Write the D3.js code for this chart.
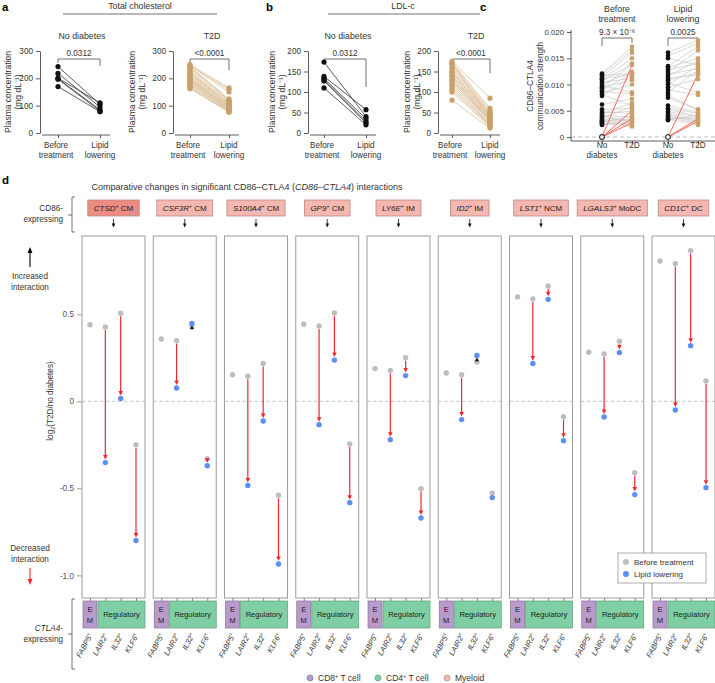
<!DOCTYPE html>
<html>
<head>
<meta charset="utf-8">
<script src="https://cdn.jsdelivr.net/npm/d3@7.9.0/dist/d3.min.js"></script>
<style>
  body { margin: 0; background: #fff; }
  svg { font-family: "Liberation Sans", Arial, sans-serif; }
</style>
</head>
<body>
<svg id="fig" width="715" height="683"></svg>
<script>
// ---------- data: panels a & b (paired plasma concentrations, mg/dL)
const tcTicks = [0, 100, 200, 300];
const ldlTicks = [0, 50, 100, 150, 200];
const tcNdBefore = [243, 218, 201, 199, 197, 170];
const tcNdAfter  = [105, 95, 110, 85, 80, 78];
const tcT2dBefore = [250, 247, 243, 240, 235, 228, 222, 218, 214, 210, 205, 200, 198, 195, 192, 190, 186, 182, 178, 175, 170, 165, 162, 245];
const tcT2dAfter  = [165, 150, 125, 120, 118, 112, 110, 108, 105, 103, 100, 98, 96, 95, 92, 90, 88, 86, 84, 82, 80, 78, 76, 160];
const ldlNdBefore = [173, 138, 133, 130, 127, 110];
const ldlNdAfter  = [40, 57, 35, 28, 25, 20];
const ldlT2dBefore = [175, 172, 170, 165, 160, 155, 150, 148, 145, 140, 135, 130, 128, 125, 120, 115, 110, 105, 100, 80, 168, 138];
const ldlT2dAfter  = [85, 60, 55, 50, 48, 45, 42, 40, 38, 36, 34, 32, 30, 28, 25, 22, 20, 18, 15, 12, 40, 30];

// ---------- data: panel c (CD86-CTLA4 communication strength, paired ND -> T2D)
const cTicks = [0, 0.005, 0.010, 0.015, 0.020];
const cBtNd  = [0.0121, 0.0119, 0.0117, 0.0115, 0.0112, 0.0110, 0.0107, 0.0104, 0.0101, 0.0098, 0.0095, 0.0093, 0.0090, 0.0087, 0.0084, 0.0081, 0.0078, 0.0062, 0.0053, 0.0048, 0.0046, 0.0044, 0.0042, 0.0040, 0.0038, 0.0036, 0.0034, 0.0032, 0.0030, 0.0028, 0.0026, 0.0024, 0.0023, 0, 0, 0, 0];
const cBtT2d = [0.0172, 0.0165, 0.0121, 0.0160, 0.0118, 0.0150, 0.0139, 0.0112, 0.0124, 0.0085, 0.0108, 0.0140, 0.0120, 0.0082, 0.0100, 0.0060, 0.0116, 0.0073, 0.0054, 0.0045, 0.0049, 0.0065, 0.0037, 0.0030, 0.0028, 0.0058, 0.0025, 0.0033, 0.0022, 0.0040, 0.0020, 0.0027, 0.0035, 0.0137, 0.0050, 0.0035, 0.0027];
const cLlNd  = [0.0161, 0.0155, 0.0150, 0.0135, 0.0132, 0.0128, 0.0124, 0.0120, 0.0116, 0.0112, 0.0108, 0.0104, 0.0100, 0.0095, 0.0090, 0.0085, 0.0080, 0.0075, 0.0060, 0.0055, 0.0052, 0.0048, 0.0045, 0.0042, 0.0040, 0.0038, 0.0035, 0.0034, 0.0032, 0, 0, 0];
const cLlT2d = [0.0184, 0.0178, 0.0137, 0.0172, 0.0150, 0.0140, 0.0165, 0.0130, 0.0145, 0.0118, 0.0123, 0.0084, 0.0135, 0.0110, 0.0080, 0.0127, 0.0050, 0.0053, 0.0047, 0.0045, 0.0040, 0.0038, 0.0033, 0.0030, 0.0028, 0.0025, 0.0036, 0.0023, 0.0042, 0.0120, 0.0035, 0.0030];

// ---------- data: panel d (log2(T2D/no diabetes))
const dCells = ['CTSD', 'CSF3R', 'S100A4', 'GP9', 'LY6E', 'ID2', 'LST1', 'LGALS3', 'CD1C'];
const dCellTypes = ['CM', 'CM', 'CM', 'CM', 'IM', 'IM', 'NCM', 'MoDC', 'DC'];
const tCells = ['FABP5', 'LAIR2', 'IL32', 'KLF6'];
const dTicks = [0.5, 0, -0.5, -1.0];
const dBefore = [
  [0.440, 0.427, 0.506, -0.249],
  [0.358, 0.349, 0.430, -0.330],
  [0.153, 0.144, 0.218, -0.540],
  [0.443, 0.433, 0.508, -0.245],
  [0.188, 0.178, 0.251, -0.502],
  [0.163, 0.153, 0.226, -0.527],
  [0.600, 0.588, 0.663, -0.088],
  [0.282, 0.272, 0.345, -0.410],
  [0.806, 0.791, 0.866, 0.117]
];
const dAfter = [
  [null, -0.352, 0.017, -0.800],
  [null, 0.077, 0.447, -0.370],
  [null, -0.483, -0.113, -0.935],
  [null, -0.134, 0.237, -0.582],
  [null, -0.220, 0.148, -0.670],
  [null, -0.105, 0.263, -0.553],
  [null, 0.217, 0.586, -0.226],
  [null, -0.090, 0.280, -0.536],
  [null, -0.050, 0.320, -0.496]
];

const TAN = '#c9a06a', TAN_LINE = '#dcc09a', INK = '#333';
const GRAY_PT = '#bdbdbd', BLUE_PT = '#5b8ff5', RED = '#f0262d';
const FS = 8.2;
const svg = d3.select('#fig');

function styleAxis(g, size = FS) {
  g.selectAll('.domain').attr('stroke', INK).attr('stroke-width', 0.8);
  g.selectAll('.tick line').attr('stroke', INK).attr('stroke-width', 0.8);
  g.selectAll('.tick text').attr('fill', INK).attr('font-size', size).attr('font-family', null);
}

function twoLines(g, x, y, l1, l2, size = FS) {
  const t = g.append('text').attr('text-anchor', 'middle').attr('font-size', size).attr('fill', INK);
  t.append('tspan').attr('x', x).attr('y', y).text(l1);
  if (l2) t.append('tspan').attr('x', x).attr('y', y + 10).text(l2);
}

function rotTitle(x, y, txt, size = FS) {
  return svg.append('text').attr('transform', `translate(${x},${y}) rotate(-90)`)
    .attr('text-anchor', 'middle').attr('font-size', size).attr('fill', INK).text(txt);
}

function bracket(g, x1, x2, y, d1, d2, label) {
  g.append('path').attr('d', `M${x1},${y + d1}V${y}H${x2}V${y + d2}`)
    .attr('fill', 'none').attr('stroke', INK).attr('stroke-width', 0.7);
  g.append('text').attr('x', (x1 + x2) / 2).attr('y', y - 3).attr('text-anchor', 'middle')
    .attr('font-size', FS).attr('fill', INK).text(label);
}

function pairedPanel({ axisX, xb, xa, ticks, before, after, dot, line, title, titleX, p, rDrop, labelX }) {
  const y = d3.scaleLinear().domain([0, d3.max(ticks)]).range([133, 51]);
  const x = d3.scalePoint().domain(['before', 'after']).range([xb, xa]);
  const g = svg.append('g');
  styleAxis(g.append('g').attr('transform', `translate(${axisX},0)`)
    .call(d3.axisLeft(y).tickValues(ticks).tickSize(4).tickSizeOuter(0).tickPadding(3)));
  const xg = g.append('g').attr('transform', 'translate(0,135)')
    .call(d3.axisBottom(x).tickSize(3).tickFormat(''));
  xg.select('.domain').attr('d', `M${axisX + 2},0H${xa + 10}`);
  styleAxis(xg);
  twoLines(g, xb - 2, 148, 'Before', 'treatment');
  twoLines(g, xa, 148, 'Lipid', 'lowering');
  g.append('text').attr('x', titleX).attr('y', 39).attr('text-anchor', 'middle')
    .attr('font-size', 8.8).attr('fill', INK).text(title);
  bracket(g, xb, xa, 59, 4, rDrop, p);
  const pairs = d3.zip(before, after);
  g.selectAll('line.pair').data(pairs).join('line')
    .attr('x1', x('before')).attr('x2', x('after'))
    .attr('y1', d => y(d[0])).attr('y2', d => y(d[1]))
    .attr('stroke', line).attr('stroke-width', 0.8);
  g.selectAll('circle.b').data(before).join('circle')
    .attr('cx', x('before')).attr('cy', d => y(d)).attr('r', 2.6).attr('fill', dot);
  g.selectAll('circle.a').data(after).join('circle')
    .attr('cx', x('after')).attr('cy', d => y(d)).attr('r', 2.6).attr('fill', dot);
  rotTitle(labelX, 92, 'Plasma concentration', 8.5);
  rotTitle(labelX + 10, 92, '(mg dL⁻¹)', 8.5);
}

// ---------- panel letters and group titles
svg.append('text').attr('x', 2).attr('y', 11).attr('font-size', 11.5).attr('font-weight', 'bold').text('a');
svg.append('text').attr('x', 266).attr('y', 11).attr('font-size', 11.5).attr('font-weight', 'bold').text('b');
svg.append('text').attr('x', 480).attr('y', 11).attr('font-size', 11.5).attr('font-weight', 'bold').text('c');
svg.append('text').attr('x', 2).attr('y', 184).attr('font-size', 11.5).attr('font-weight', 'bold').text('d');

svg.append('text').attr('x', 140).attr('y', 9).attr('text-anchor', 'middle').attr('font-size', 8.8).attr('fill', INK).text('Total cholesterol');
svg.append('line').attr('x1', 63).attr('x2', 217).attr('y1', 14).attr('y2', 14).attr('stroke', INK).attr('stroke-width', 0.7);
svg.append('text').attr('x', 403).attr('y', 9).attr('text-anchor', 'middle').attr('font-size', 8.8).attr('fill', INK).text('LDL-c');
svg.append('line').attr('x1', 328).attr('x2', 480).attr('y1', 14).attr('y2', 14).attr('stroke', INK).attr('stroke-width', 0.7);

pairedPanel({ axisX: 40, xb: 58, xa: 100, ticks: tcTicks, before: tcNdBefore, after: tcNdAfter,
  dot: '#111', line: '#333', title: 'No diabetes', titleX: 82, p: '0.0312', rDrop: 7, labelX: 11 });
pairedPanel({ axisX: 173, xb: 190, xa: 229, ticks: tcTicks, before: tcT2dBefore, after: tcT2dAfter,
  dot: TAN, line: TAN_LINE, title: 'T2D', titleX: 212, p: '<0.0001', rDrop: 11, labelX: 135 });
pairedPanel({ axisX: 308, xb: 324, xa: 366, ticks: ldlTicks, before: ldlNdBefore, after: ldlNdAfter,
  dot: '#111', line: '#333', title: 'No diabetes', titleX: 348, p: '0.0312', rDrop: 28, labelX: 275 });
pairedPanel({ axisX: 438, xb: 452, xa: 490, ticks: ldlTicks, before: ldlT2dBefore, after: ldlT2dAfter,
  dot: TAN, line: TAN_LINE, title: 'T2D', titleX: 476, p: '<0.0001', rDrop: 14, labelX: 410 });

// ---------- panel c
{
  const g = svg.append('g');
  const axisX = 571;
  const y = d3.scaleLinear().domain([0, 0.02]).range([137, 32]);
  const x = d3.scaleOrdinal().domain(['btNd', 'btT2d', 'llNd', 'llT2d']).range([602, 632, 668, 698]);
  g.append('line').attr('x1', axisX).attr('x2', 715).attr('y1', y(0)).attr('y2', y(0))
    .attr('stroke', '#aaa').attr('stroke-width', 0.8).attr('stroke-dasharray', '4,3');
  const ya = g.append('g').attr('transform', `translate(${axisX},0)`)
    .call(d3.axisLeft(y).tickValues(cTicks).tickSize(4).tickSizeOuter(0).tickPadding(3)
      .tickFormat(d => d === 0 ? '0' : d3.format('.3f')(d)));
  ya.select('.domain').attr('d', 'M0,30V141');
  styleAxis(ya, 7.8);
  const xg = g.append('g').attr('transform', 'translate(0,141)')
    .call(d3.axisBottom(x).tickSize(3).tickFormat(''));
  xg.select('.domain').attr('d', `M${axisX},0H715`);
  styleAxis(xg);
  twoLines(g, x('btNd'), 148, 'No', 'diabetes');
  twoLines(g, x('llNd'), 148, 'No', 'diabetes');
  twoLines(g, x('btT2d'), 148, 'T2D');
  twoLines(g, x('llT2d'), 148, 'T2D');
  twoLines(g, 617, 12, 'Before', 'treatment', 8.8);
  twoLines(g, 683, 12, 'Lipid', 'lowering', 8.8);
  bracket(g, x('btNd'), x('btT2d'), 38, 8, 5, '');
  g.append('text').attr('x', 617).attr('y', 35).attr('text-anchor', 'middle').attr('font-size', FS).attr('fill', INK)
    .text('9.3 × 10⁻⁶');
  bracket(g, x('llNd'), x('llT2d'), 38, 8, 4, '0.0025');
  rotTitle(533, 86, 'CD86–CTLA4', 8.3);
  rotTitle(543, 86, 'communication strength', 8.3);

  const groups = [[cBtNd, cBtT2d, 'btNd', 'btT2d'], [cLlNd, cLlT2d, 'llNd', 'llT2d']];
  groups.forEach(([nd, t2d, kn, kt]) => {
    const pairs = d3.zip(nd, t2d);
    g.append('g').selectAll('line').data(pairs.filter(d => d[0] > 0)).join('line')
      .attr('x1', x(kn)).attr('x2', x(kt)).attr('y1', d => y(d[0])).attr('y2', d => y(d[1]))
      .attr('stroke', '#c9c9c9').attr('stroke-width', 0.7);
    g.append('g').selectAll('line').data(pairs.filter(d => d[0] === 0)).join('line')
      .attr('x1', x(kn)).attr('x2', x(kt)).attr('y1', d => y(d[0])).attr('y2', d => y(d[1]))
      .attr('stroke', '#ef5a4c').attr('stroke-width', 0.9);
    g.append('g').selectAll('circle').data(t2d).join('circle')
      .attr('cx', x(kt)).attr('cy', d => y(d)).attr('r', 2.3).attr('fill', TAN);
    g.append('g').selectAll('circle').data(nd).join('circle')
      .attr('cx', x(kn)).attr('cy', d => y(d)).attr('r', 2.3)
      .attr('fill', d => d === 0 ? '#fff' : '#111').attr('stroke', '#111').attr('stroke-width', d => d === 0 ? 0.8 : 0);
  });
}

// ---------- panel d
function richText(t, parts, size) {
  parts.forEach(p => {
    const s = t.append('tspan').text(p.t);
    if (p.i) s.attr('font-style', 'italic');
    if (p.sup) s.attr('font-size', size * 0.65).attr('dy', -size * 0.4);
    if (p.down) s.attr('dy', size * 0.4);
  });
  return t;
}

{
  const g = svg.append('g');
  const panel = d3.scaleBand().domain(dCells).range([82, 715]).paddingInner(0.116);
  const tx = d3.scalePoint().domain(tCells).range([8, 54]);
  const y = d3.scaleLinear().domain([-1.13, 0.95]).range([598, 236]);
  const top = y(0.95), bottom = y(-1.13);

  // title
  const title = g.append('text').attr('x', 247).attr('y', 190).attr('text-anchor', 'middle')
    .attr('font-size', 9).attr('fill', INK);
  richText(title, [{ t: 'Comparative changes in significant CD86–CTLA4 (' }, { t: 'CD86–CTLA4', i: true }, { t: ') interactions' }], 9);

  // side labels
  const cd86 = g.append('text').attr('text-anchor', 'end').attr('font-size', FS).attr('fill', INK);
  cd86.append('tspan').attr('x', 63).attr('y', 211).text('CD86-');
  cd86.append('tspan').attr('x', 63).attr('y', 222).text('expressing');
  g.append('path').attr('d', 'M75,197H72V232H75M72,215H68').attr('fill', 'none').attr('stroke', INK).attr('stroke-width', 0.7);
  const ctla = g.append('text').attr('text-anchor', 'end').attr('font-size', FS).attr('fill', INK);
  ctla.append('tspan').attr('x', 63).attr('y', 631).attr('font-style', 'italic').text('CTLA4');
  ctla.append('tspan').text('-');
  ctla.append('tspan').attr('x', 63).attr('y', 642).text('expressing');
  g.append('path').attr('d', 'M75,599H72V669H75M72,634H68').attr('fill', 'none').attr('stroke', INK).attr('stroke-width', 0.7);

  const inc = g.append('text').attr('text-anchor', 'middle').attr('font-size', FS).attr('fill', INK);
  inc.append('tspan').attr('x', 30).attr('y', 279).text('Increased');
  inc.append('tspan').attr('x', 30).attr('y', 290).text('interaction');
  g.append('line').attr('x1', 30).attr('x2', 30).attr('y1', 267).attr('y2', 251).attr('stroke', '#000').attr('stroke-width', 1.1);
  g.append('path').attr('d', 'M27.6,253L30,247L32.4,253Z').attr('fill', '#000');
  const dec = g.append('text').attr('text-anchor', 'middle').attr('font-size', FS).attr('fill', INK);
  dec.append('tspan').attr('x', 30).attr('y', 551).text('Decreased');
  dec.append('tspan').attr('x', 30).attr('y', 562).text('interaction');
  g.append('line').attr('x1', 30).attr('x2', 30).attr('y1', 568).attr('y2', 580).attr('stroke', RED).attr('stroke-width', 1.1);
  g.append('path').attr('d', 'M27.6,579L30,585L32.4,579Z').attr('fill', RED);

  // y axis
  const ya = g.append('g').attr('transform', 'translate(82,0)')
    .call(d3.axisLeft(y).tickValues(dTicks).tickSize(5).tickPadding(3)
      .tickFormat(d => d === 0 ? '0' : (d < 0 ? '-' : '') + d3.format('.1f')(Math.abs(d))));
  ya.select('.domain').remove();
  styleAxis(ya);
  ya.selectAll('.tick line').attr('stroke', '#888');
  ya.selectAll('.tick text').attr('fill', '#555');
  const yl = g.append('text').attr('transform', 'translate(53,401) rotate(-90)')
    .attr('text-anchor', 'middle').attr('font-size', FS).attr('fill', INK);
  yl.append('tspan').text('log');
  yl.append('tspan').attr('font-size', FS * 0.65).attr('dy', FS * 0.3).text('2');
  yl.append('tspan').attr('dy', -FS * 0.3).text('(T2D/no diabetes)');

  dCells.forEach((cell, ci) => {
    const x0 = panel(cell), w = panel.bandwidth(), cx = x0 + w / 2;
    const pg = g.append('g');

    // header box
    const hb = pg.append('g');
    const ht = hb.append('text').attr('x', cx).attr('y', 211).attr('text-anchor', 'middle').attr('font-size', 8).attr('fill', '#222');
    richText(ht, [{ t: cell, i: true }, { t: '+', sup: true }, { t: ' ' + dCellTypes[ci], down: true }], 8);
    const tw = ht.node().getComputedTextLength();
    hb.insert('rect', 'text').attr('x', cx - tw / 2 - 6).attr('y', 200).attr('width', tw + 12).attr('height', 16)
      .attr('fill', ci === 0 ? '#ec8b82' : '#f5b8b0').attr('stroke', '#b98a84').attr('stroke-width', 0.8);
    pg.append('line').attr('x1', cx).attr('x2', cx).attr('y1', 219).attr('y2', 224).attr('stroke', '#111').attr('stroke-width', 0.8);
    pg.append('path').attr('d', `M${cx - 1.8},223.5L${cx},227.5L${cx + 1.8},223.5Z`).attr('fill', '#111');

    // frame and zero line
    pg.append('rect').attr('x', x0).attr('y', top).attr('width', w).attr('height', bottom - top)
      .attr('fill', 'none').attr('stroke', '#9c9c9c').attr('stroke-width', 1);
    pg.append('line').attr('x1', x0).attr('x2', x0 + w).attr('y1', y(0)).attr('y2', y(0))
      .attr('stroke', '#b5b5b5').attr('stroke-width', 0.8).attr('stroke-dasharray', '3.5,2.5');

    // bottom ticks
    const xa = pg.append('g').attr('transform', `translate(${x0},${bottom})`)
      .call(d3.axisBottom(tx).tickSize(3).tickFormat(''));
    xa.select('.domain').remove();
    xa.selectAll('.tick line').attr('stroke', '#888');

    // category boxes
    pg.append('rect').attr('x', x0 + 1).attr('y', 601).attr('width', 14).attr('height', 27)
      .attr('fill', '#b99bcb').attr('stroke', '#86709a').attr('stroke-width', 0.7);
    const em = pg.append('text').attr('text-anchor', 'middle').attr('font-size', 7.6).attr('fill', '#222');
    em.append('tspan').attr('x', x0 + 8).attr('y', 612).text('E');
    em.append('tspan').attr('x', x0 + 8).attr('y', 623).text('M');
    pg.append('rect').attr('x', x0 + 16).attr('y', 601).attr('width', w - 16).attr('height', 27)
      .attr('fill', '#80cfa4').attr('stroke', '#5c9c7a').attr('stroke-width', 0.7);
    pg.append('text').attr('x', x0 + 16 + (w - 16) / 2).attr('y', 617).attr('text-anchor', 'middle')
      .attr('font-size', 7.6).attr('fill', '#222').text('Regulatory');

    // rotated T cell labels
    tCells.forEach(tc => {
      const t = pg.append('text').attr('transform', `translate(${x0 + tx(tc) + 3},635) rotate(-62)`)
        .attr('text-anchor', 'end').attr('font-size', 7.6).attr('fill', INK);
      richText(t, [{ t: tc, i: true }, { t: '+', sup: true }], 7.6);
    });

    // points and arrows
    const bef = dBefore[ci], aft = dAfter[ci];
    tCells.forEach((tc, k) => {
      const px = x0 + tx(tc);
      pg.append('circle').attr('cx', px).attr('cy', y(bef[k])).attr('r', 2.7).attr('fill', GRAY_PT);
    });
    tCells.forEach((tc, k) => {
      if (aft[k] === null) return;
      const px = x0 + tx(tc), gy = y(bef[k]), by = y(aft[k]);
      if (by - gy > 6) {
        const tip = by - 3, base = tip - 4.5;
        if (base > gy + 3) {
          pg.append('line').attr('x1', px).attr('x2', px).attr('y1', gy + 3).attr('y2', base + 0.5)
            .attr('stroke', RED).attr('stroke-width', 1.2);
        }
        pg.append('path').attr('d', `M${px - 2.3},${base}L${px},${tip}L${px + 2.3},${base}Z`).attr('fill', RED);
      }
    });
    tCells.forEach((tc, k) => {
      if (aft[k] === null) return;
      const px = x0 + tx(tc), gy = y(bef[k]), by = y(aft[k]);
      pg.append('circle').attr('cx', px).attr('cy', by).attr('r', 2.7).attr('fill', BLUE_PT);
      if (by < gy) {
        const tip = by + 2, base = tip + 3.8;
        pg.append('path').attr('d', `M${px - 2},${base}L${px},${tip}L${px + 2},${base}Z`).attr('fill', '#111');
      }
    });
  });

  // in-plot legend
  const lg = g.append('g');
  lg.append('rect').attr('x', 618).attr('y', 553).attr('width', 88).attr('height', 30)
    .attr('fill', '#fff').attr('stroke', '#999').attr('stroke-width', 0.8);
  [['Before treatment', GRAY_PT, 562], ['Lipid lowering', BLUE_PT, 574]].forEach(([lab, col, yy]) => {
    lg.append('circle').attr('cx', 626).attr('cy', yy).attr('r', 3).attr('fill', col);
    lg.append('text').attr('x', 634).attr('y', yy + 2.8).attr('font-size', 8).attr('fill', INK).text(lab);
  });

  // bottom legend
  const bl = g.append('g');
  [['CD8', ' T cell', '#b99bcb', '#86709a', 310], ['CD4', ' T cell', '#80cfa4', '#5c9c7a', 378], ['Myeloid', '', '#f5b8b0', '#b98a84', 447]]
    .forEach(([a, b, fill, stroke, x]) => {
      bl.append('circle').attr('cx', x).attr('cy', 678).attr('r', 3).attr('fill', fill).attr('stroke', stroke).attr('stroke-width', 0.7);
      const t = bl.append('text').attr('x', x + 8).attr('y', 681).attr('font-size', 8.5).attr('fill', INK);
      if (b) richText(t, [{ t: a }, { t: '+', sup: true }, { t: b, down: true }], 8.5);
      else t.text(a);
    });
}
</script>
</body>
</html>
